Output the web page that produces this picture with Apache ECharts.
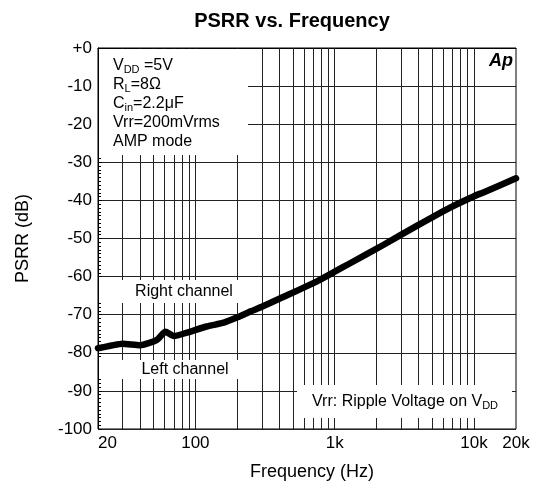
<!DOCTYPE html>
<html>
<head>
<meta charset="utf-8">
<script src="https://cdn.jsdelivr.net/npm/echarts@6/dist/echarts.min.js"></script>
<style>
  html, body { margin: 0; padding: 0; background: #fff; }
  #chart { width: 540px; height: 488px; }
</style>
</head>
<body>
<div id="chart"></div>
<script>
// PSRR measured against ripple frequency (Hz -> dB)
const frequencies = [20, 25, 30, 40, 53, 61, 70, 87, 120, 160, 200, 250, 300, 430, 740, 1000, 1290, 2230, 3880, 6730, 10000, 11670, 20000];
const psrrDb = [-78.8, -78.1, -77.6, -78.0, -76.6, -74.5, -75.6, -74.7, -73.1, -72.1, -70.7, -69.1, -67.9, -65.3, -61.3, -58.7, -56.5, -51.7, -46.7, -41.9, -38.9, -37.9, -34.2];

// Log-decade grid lines on the frequency axis
const freqGridLines = [30, 40, 50, 60, 70, 80, 90, 100, 200, 300, 400, 500, 600, 700, 800, 900,
                       1000, 2000, 3000, 4000, 5000, 6000, 7000, 8000, 9000, 10000];

// Axis ranges
const freqMin = 20, freqMax = 20000;
const dbMin = -100, dbMax = 0, dbStep = 10;

const FONT = '"Liberation Sans", Arial, Helvetica, sans-serif';

const chart = echarts.init(document.getElementById('chart'), null, { renderer: 'canvas' });

const condLines = [
  '{n|V}{s|DD}{n| =5V}',
  '{n|R}{s|L}{n|=8\u03A9}',
  '{n|C}{s|in}{n|=2.2\u03BCF}',
  '{n|Vrr=200mVrms}',
  '{n|AMP mode}'
];
const richSub = {
  n: { fontSize: 16, fontFamily: FONT, fill: '#000', lineHeight: 19 },
  s: { fontSize: 11, fontFamily: FONT, fill: '#000', verticalAlign: 'bottom', lineHeight: 11 }
};

const graphics = [];
// White panels behind the notes
[[99, 49, 149, 106], [99, 280, 149, 23], [99, 360, 149, 19], [297, 385, 215, 33]].forEach(r => {
  graphics.push({ type: 'rect', silent: true, z: 5, shape: { x: r[0], y: r[1], width: r[2], height: r[3] }, style: { fill: '#fff' } });
});
condLines.forEach((t, i) => {
  graphics.push({ type: 'text', z: 20, x: 113, y: 66 + i * 19, style: { text: t, rich: richSub, align: 'left', verticalAlign: 'middle', fill: '#000' } });
});
graphics.push({ type: 'text', z: 20, x: 184, y: 292, style: { text: 'Right channel', fontSize: 16, fontFamily: FONT, fill: '#000', align: 'center', verticalAlign: 'middle' } });
graphics.push({ type: 'text', z: 20, x: 185, y: 370, style: { text: 'Left channel', fontSize: 16, fontFamily: FONT, fill: '#000', align: 'center', verticalAlign: 'middle' } });
graphics.push({ type: 'text', z: 20, x: 312, y: 402, style: { text: '{n|Vrr: Ripple Voltage on V}{s|DD}', rich: richSub, align: 'left', verticalAlign: 'middle', fill: '#000' } });
graphics.push({ type: 'text', z: 20, x: 292, y: 21, style: { text: 'PSRR vs. Frequency', fontSize: 20, fontWeight: 'bold', fontFamily: FONT, fill: '#000', align: 'center', verticalAlign: 'middle' } });
graphics.push({ type: 'text', z: 20, x: 513, y: 61, style: { text: 'Ap', fontSize: 18, fontWeight: 'bold', fontStyle: 'italic', fontFamily: FONT, fill: '#000', align: 'right', verticalAlign: 'middle' } });

const option = {
  animation: false,
  backgroundColor: '#fff',
  grid: { left: 98, right: 24, top: 48, bottom: 59, show: true, borderColor: '#000', borderWidth: 1, backgroundColor: 'transparent', containLabel: false },
  xAxis: {
    type: 'log', logBase: 10, min: freqMin, max: freqMax,
    name: 'Frequency (Hz)', nameLocation: 'middle', nameGap: 34,
    nameTextStyle: { fontSize: 18, fontFamily: FONT, color: '#000', padding: [0, 0, 0, 10] },
    axisLine: { show: true, lineStyle: { color: '#000', width: 1 } },
    axisTick: { show: false },
    splitLine: { show: false },
    axisLabel: {
      interval: 0, margin: 6, fontSize: 17, fontFamily: FONT, color: '#000', alignMinLabel: 'left',
      formatter: v => { const r = Math.round(v); return r >= 1000 ? (r / 1000) + 'k' : String(r); }
    }
  },
  yAxis: {
    type: 'value', min: dbMin, max: dbMax, interval: dbStep,
    name: 'PSRR (dB)', nameLocation: 'middle', nameGap: 66, nameRotate: 90,
    nameTextStyle: { fontSize: 18, fontFamily: FONT, color: '#000' },
    axisLine: { show: true, lineStyle: { color: '#000', width: 1 } },
    axisTick: { show: true, inside: true, length: 4, lineStyle: { color: '#000' } },
    minorTick: { show: true, splitNumber: 10, length: 3, lineStyle: { color: '#000' } },
    splitLine: { show: true, lineStyle: { color: '#222', width: 1 } },
    axisLabel: {
      margin: 6, fontSize: 17, fontFamily: FONT, color: '#000',
      formatter: v => v === 0 ? '+0' : String(v)
    }
  },
  graphic: { elements: graphics },
  series: [
    {
      type: 'line', z: 1, data: [], silent: true,
      markLine: {
        z: 1, silent: true, symbol: 'none', animation: false,
        label: { show: false },
        emphasis: { disabled: true },
        lineStyle: { color: '#222', width: 1, type: 'solid' },
        data: freqGridLines.map(f => ({ xAxis: f }))
      }
    },
    {
      name: 'PSRR', type: 'line', z: 10, showSymbol: false, smooth: 0.2,
      data: frequencies.map((f, i) => [f, psrrDb[i]]),
      lineStyle: { color: '#000', width: 6.5, cap: 'round', join: 'round' }
    }
  ]
};
chart.setOption(option);
</script>
</body>
</html>
